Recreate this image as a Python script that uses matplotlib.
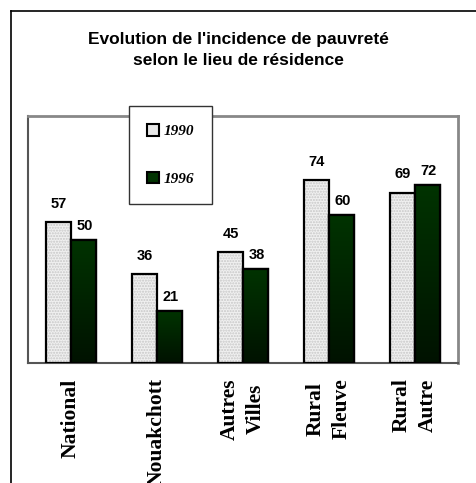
import matplotlib
matplotlib.use("Agg")
import matplotlib.pyplot as plt
import numpy as np
from matplotlib.lines import Line2D
from matplotlib.patches import Patch
from matplotlib.colors import LinearSegmentedColormap

categories = ["National", "Nouakchott", "Autres\nVilles", "Rural\nFleuve", "Rural\nAutre"]
v1990 = [57, 36, 45, 74, 69]
v1996 = [50, 21, 38, 60, 72]
series_labels = ["1990", "1996"]
title = "Evolution de l'incidence de pauvreté\nselon le lieu de résidence"

W, H = 476, 483
fig = plt.figure(figsize=(W / 100, H / 100), dpi=100)
ax = fig.add_axes([28 / W, 1 - 363 / H, (458 - 28) / W, (363 - 116) / H])

x = np.arange(len(categories))
bw = 0.285
b1 = ax.bar(x - bw / 2, v1990, bw, color="#f0f0f0", edgecolor="black", linewidth=1.6,
            hatch="......", zorder=3)
for p in b1:
    p._hatch_color = (0.78, 0.78, 0.78, 1.0)
b2 = ax.bar(x + bw / 2, v1996, bw, color="#013301", edgecolor="black", linewidth=1.6, zorder=3)

# vertical gradient inside the 1996 bars
grad = np.linspace(0, 1, 256).reshape(-1, 1)
cmap = LinearSegmentedColormap.from_list("g", ["#001200", "#003300"])
for p in b2:
    x0, y0 = p.get_x(), p.get_y()
    w, h = p.get_width(), p.get_height()
    im = ax.imshow(grad, cmap=cmap, aspect="auto", origin="lower",
                   extent=[x0, x0 + w, y0, y0 + h], zorder=3.5)
    im.set_clip_path(p)
    ov = plt.Rectangle((x0, y0), w, h, fill=False, edgecolor="black", linewidth=1.6, zorder=4)
    ax.add_patch(ov)

for p, v in zip(b1, v1990):
    ax.annotate(str(v), (p.get_x() + p.get_width() / 2, p.get_height()),
                xytext=(0, 8), textcoords="offset points", ha="center", va="bottom",
                fontsize=10.5, fontweight="bold", family="Liberation Sans")
for p, v in zip(b2, v1996):
    ax.annotate(str(v), (p.get_x() + p.get_width() / 2, p.get_height()),
                xytext=(1, 5), textcoords="offset points", ha="center", va="bottom",
                fontsize=10.5, fontweight="bold", family="Liberation Sans")

ax.set_xlim(-0.5, len(categories) - 0.5)
ax.set_ylim(0, 100)
ax.set_yticks([])
ax.set_xticks(x)
ax.set_xticklabels(categories, rotation=90, fontsize=15.5, fontweight="bold",
                   family="Liberation Serif", va="top", ha="center", multialignment="center",
                   linespacing=1.4)
ax.tick_params(axis="x", length=0, pad=11)
for s in ["top", "right"]:
    ax.spines[s].set_color("#888888")
    ax.spines[s].set_linewidth(2)
for s in ["left", "bottom"]:
    ax.spines[s].set_color("#555555")
    ax.spines[s].set_linewidth(1.5)

# legend
handles = [Patch(facecolor="#e8e8e8", edgecolor="black", linewidth=1.5),
           Patch(facecolor="#013301", edgecolor="black", linewidth=1.5)]
leg = fig.legend(handles, series_labels, loc="upper left",
                 bbox_to_anchor=(129 / W, 1 - 203 / H, (212 - 129) / W, (203 - 106) / H),
                 mode="expand", frameon=True, fancybox=False, framealpha=1,
                 edgecolor="#333333", handlelength=0.75, handleheight=0.75, handletextpad=0.3,
                 labelspacing=2.2, borderpad=1.2, borderaxespad=0,
                 prop={"family": "Liberation Serif", "weight": "bold", "style": "italic", "size": 11})
leg.get_frame().set_linewidth(1.0)
leg.set_zorder(10)

fig.text(0.5, 1 - 50 / H, title, ha="center", va="center", fontsize=12.5,
         fontweight="bold", family="Liberation Sans", linespacing=1.45)

# outer frame
fig.add_artist(Line2D([11 / W, 1.0], [1 - 11 / H, 1 - 11 / H], color="black", lw=1.2,
                      transform=fig.transFigure))
fig.add_artist(Line2D([11 / W, 11 / W], [1 - 11 / H, 0], color="black", lw=1.2,
                      transform=fig.transFigure))

fig.savefig("out.png", dpi=100)
